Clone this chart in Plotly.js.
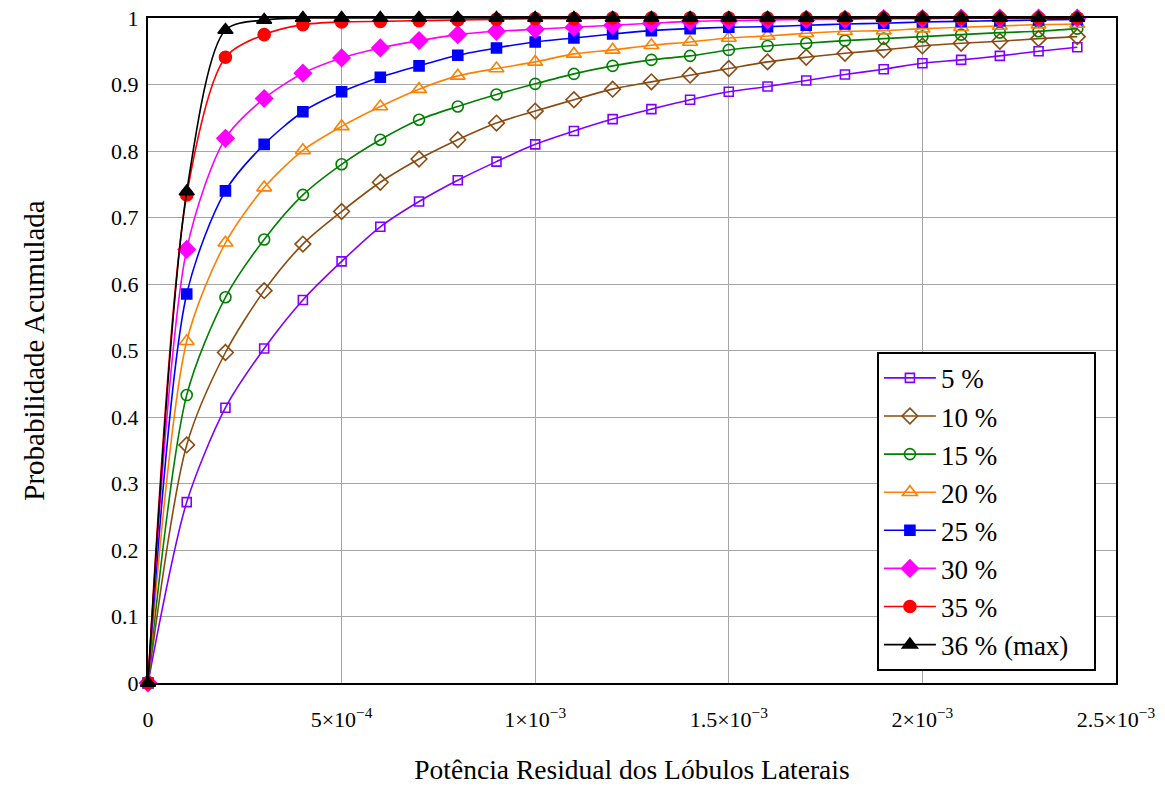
<!DOCTYPE html>
<html>
<head>
<meta charset="utf-8">
<script src="https://cdn.plot.ly/plotly-3.0.1.min.js"></script>
<style>html,body{margin:0;padding:0;background:#fff}#chart{width:1165px;height:789px}</style>
</head>
<body>
<div id="chart"></div>
<script>
// x positions of the sampled points (Potência Residual)
const xValues = [0, 1e-4, 2e-4, 3e-4, 4e-4, 5e-4, 6e-4, 7e-4, 8e-4, 9e-4, 1.0e-3,
  1.1e-3, 1.2e-3, 1.3e-3, 1.4e-3, 1.5e-3, 1.6e-3, 1.7e-3, 1.8e-3, 1.9e-3, 2.0e-3,
  2.1e-3, 2.2e-3, 2.3e-3, 2.4e-3];

const seriesNames = ["5 %", "10 %", "15 %", "20 %", "25 %", "30 %", "35 %", "36 % (max)\u00a0\u00a0\u00a0"];

const p05 = [0, 0.272, 0.414, 0.503, 0.576, 0.634, 0.686, 0.724, 0.756, 0.784, 0.810,
  0.830, 0.848, 0.863, 0.877, 0.889, 0.897, 0.906, 0.915, 0.923, 0.932,
  0.937, 0.943, 0.950, 0.956];
const p10 = [0, 0.358, 0.497, 0.590, 0.660, 0.709, 0.753, 0.788, 0.817, 0.842, 0.860,
  0.877, 0.893, 0.904, 0.914, 0.924, 0.934, 0.941, 0.947, 0.952, 0.958,
  0.962, 0.965, 0.969, 0.972];
const p15 = [0, 0.433, 0.580, 0.667, 0.734, 0.780, 0.817, 0.847, 0.867, 0.885, 0.901,
  0.916, 0.928, 0.937, 0.943, 0.952, 0.958, 0.962, 0.966, 0.969, 0.972,
  0.975, 0.978, 0.980, 0.984];
const p20 = [0, 0.514, 0.662, 0.745, 0.801, 0.837, 0.867, 0.893, 0.913, 0.924, 0.934,
  0.946, 0.952, 0.959, 0.964, 0.970, 0.973, 0.977, 0.980, 0.981, 0.984,
  0.986, 0.988, 0.990, 0.991];
const p25 = [0, 0.585, 0.740, 0.810, 0.859, 0.889, 0.911, 0.928, 0.944, 0.955, 0.964,
  0.970, 0.976, 0.981, 0.984, 0.986, 0.987, 0.989, 0.991, 0.992, 0.994,
  0.995, 0.996, 0.997, 0.998];
const p30 = [0, 0.652, 0.819, 0.879, 0.917, 0.940, 0.955, 0.966, 0.975, 0.980, 0.983,
  0.986, 0.989, 0.992, 0.995, 0.996, 0.997, 0.998, 0.998, 0.999, 0.999,
  1.0, 1.0, 1.0, 1.0];
const p35 = [0, 0.734, 0.941, 0.975, 0.990, 0.994, 0.995, 0.996, 0.997, 0.998, 0.999,
  0.999, 1.0, 1.0, 1.0, 1.0, 1.0, 1.0, 1.0, 1.0, 1.0,
  1.0, 1.0, 1.0, 1.0];
const p36 = [0, 0.739, 0.982, 0.997, 1.0, 1.0, 1.0, 1.0, 1.0, 1.0, 1.0,
  1.0, 1.0, 1.0, 1.0, 1.0, 1.0, 1.0, 1.0, 1.0, 1.0,
  1.0, 1.0, 1.0, 1.0];

const xTickVals = [0, 5e-4, 1e-3, 1.5e-3, 2e-3, 2.5e-3];
const xTickText = ["0", "5×10<sup>−4</sup>", "1×10<sup>−3</sup>", "1.5×10<sup>−3</sup>", "2×10<sup>−3</sup>", "2.5×10<sup>−3</sup>"];
const yTickVals = [0, 0.1, 0.2, 0.3, 0.4, 0.5, 0.6, 0.7, 0.8, 0.9, 1];
const yTickText = ["0", "0.1", "0.2", "0.3", "0.4", "0.5", "0.6", "0.7", "0.8", "0.9", "1"];

const allSeries = [p05, p10, p15, p20, p25, p30, p35, p36];
const styles = [
  {color: "#8000ff", symbol: "square-open", size: 9},
  {color: "#8b4a10", symbol: "diamond-open", size: 12},
  {color: "#008000", symbol: "circle-open", size: 11},
  {color: "#ff8000", symbol: "triangle-up-open", size: 13},
  {color: "#0000ff", symbol: "square", size: 10},
  {color: "#ff00ff", symbol: "diamond", size: 13},
  {color: "#ff0000", symbol: "circle", size: 12},
  {color: "#000000", symbol: "triangle-up", size: 13}
];

const FONT = "Liberation Serif, Times New Roman, serif";

const traces = allSeries.map((ys, i) => ({
  type: "scatter",
  mode: "lines+markers",
  x: xValues,
  y: ys,
  name: seriesNames[i],
  legendgroup: "g" + i,
  cliponaxis: false,
  line: {color: styles[i].color, width: 1.6, shape: "spline", smoothing: 0.8},
  marker: {
    color: styles[i].color,
    symbol: styles[i].symbol,
    size: styles[i].size,
    line: {color: styles[i].color, width: 1.6}
  }
}));

const layout = {
  width: 1165,
  height: 789,
  margin: {l: 148, r: 49, t: 18, b: 106},
  paper_bgcolor: "#ffffff",
  plot_bgcolor: "#ffffff",
  font: {family: FONT, color: "#000000", size: 22},
  showlegend: true,
  legend: {
    x: 0.753, y: 0.498, xanchor: "left", yanchor: "top",
    bgcolor: "#ffffff",
    bordercolor: "#000000",
    borderwidth: 2,
    font: {family: FONT, size: 27, color: "#000000"},
    itemwidth: 52,
    tracegroupgap: 0
  },
  xaxis: {
    range: [0, 2.5e-3],
    tickmode: "array",
    tickvals: xTickVals,
    ticktext: xTickText,
    showgrid: true,
    gridcolor: "#a6a6a6",
    gridwidth: 1,
    zeroline: false,
    showline: true,
    linecolor: "#000000",
    linewidth: 2,
    mirror: true,
    ticks: "",
    ticklabelstandoff: 16,
    tickfont: {family: FONT, size: 22, color: "#000000"},
    title: {text: "Potência Residual dos Lóbulos Laterais", font: {family: FONT, size: 27.5, color: "#000000"}, standoff: 28}
  },
  yaxis: {
    range: [0, 1],
    tickmode: "array",
    tickvals: yTickVals,
    ticktext: yTickText,
    showgrid: true,
    gridcolor: "#a6a6a6",
    gridwidth: 1,
    zeroline: false,
    showline: true,
    linecolor: "#000000",
    linewidth: 2,
    mirror: true,
    ticks: "",
    ticklabelstandoff: 3,
    tickfont: {family: FONT, size: 22, color: "#000000"},
    title: {text: "Probabilidade Acumulada", font: {family: FONT, size: 29, color: "#000000"}, standoff: 58}
  }
};

Plotly.newPlot("chart", traces, layout, {displayModeBar: false, staticPlot: true});
</script>
</body>
</html>
